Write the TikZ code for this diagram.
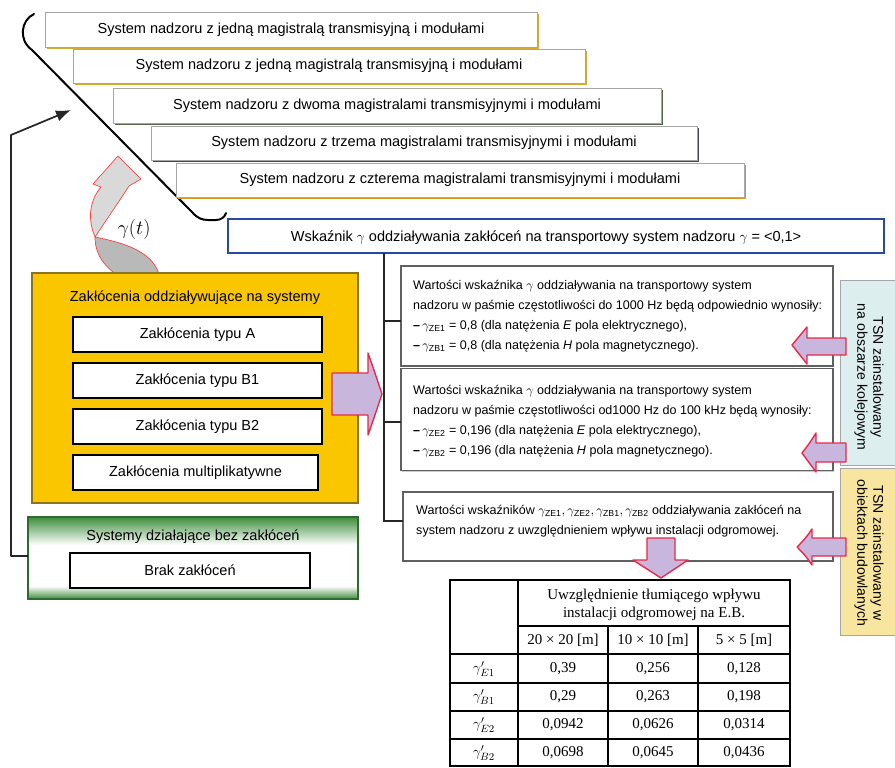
\documentclass[tikz,border=0pt]{standalone}
\usepackage{amsmath}
\usepackage{fontspec}
\setmainfont{Liberation Sans}
\newfontfamily\tabserif{Liberation Serif}
\usetikzlibrary{arrows.meta,shadows}
\definecolor{gold}{HTML}{F9C600}
\definecolor{goldedge}{HTML}{8A7420}
\definecolor{lav}{HTML}{C8B6DC}
\definecolor{pinkred}{HTML}{E8284A}
\definecolor{wblue}{HTML}{2A48A8}
\definecolor{gdark}{HTML}{3E8E3E}
\definecolor{gedge}{HTML}{2E6A30}
\definecolor{tsnblue}{HTML}{DDEEEE}
\definecolor{tsnyel}{HTML}{F8E6A0}
\definecolor{shgold}{HTML}{D4AA30}
\definecolor{shgreen}{HTML}{56664A}
\definecolor{shpurple}{HTML}{48405A}
\definecolor{shorange}{HTML}{D89A20}
\pgfdeclareverticalshading{greenband}{100bp}{color(0bp)=(gdark); color(25bp)=(gdark); color(33bp)=(white); color(58bp)=(white); color(75bp)=(gdark); color(100bp)=(gdark)}
\newdimen\pxu \pxu=0.3mm
\begin{document}
\begin{tikzpicture}[x=0.3mm, y=-0.3mm,
  bx/.style={draw, inner sep=0pt, outer sep=0pt, fill=white},
  bigfont/.style={font=\fontsize{12.4}{14}\selectfont},
  topbox/.style={bx, bigfont, draw=gray!70, line width=0.7pt,
    drop shadow={shadow xshift=0.5mm, shadow yshift=-0.5mm, fill=#1, opacity=1}},
  innerbox/.style={bx, bigfont, draw=black, line width=1.4pt,
    drop shadow={shadow xshift=0.35mm, shadow yshift=-0.35mm, fill=gray!70, opacity=1}},
  rbox/.style={bx, draw=gray!75!black, line width=1.1pt,
    drop shadow={shadow xshift=0.3mm, shadow yshift=-0.3mm, fill=gray!40, opacity=1}},
  rtext/.style={anchor=west, align=left, inner sep=0pt, font=\fontsize{10.7}{17.07}\selectfont},
  conn/.style={draw=black!85, line width=1.5pt},
  blockarrow/.style={fill=lav, draw=pinkred, line width=1.2pt, line join=round},
  tsnbox/.style={bx, draw=gray!70, line width=0.8pt},
  tsntext/.style={rotate=-90, align=center, inner sep=0pt, font=\fontsize{12}{13.7}\selectfont},
  tab/.style={line width=1.1pt, draw=black},
  tcell/.style={inner sep=0pt, font=\tabserif\fontsize{12.8}{15.4}\selectfont}
]
\useasboundingbox (0,0) rectangle (895,767);

% bracket
\draw[line width=1.7pt, line cap=round] (34,14) .. controls (21,20) and (18,40) .. (32,50) -- (192,212) .. controls (197,218) and (202,220) .. (208,220) -- (216,220) .. controls (221,220) and (225,217) .. (226,213);

% top stacked boxes
\node[topbox=shgold, minimum width=492*\pxu, minimum height=35*\pxu] (T1) at (291,29.5) {System nadzoru z jedną magistralą transmisyjną i modułami};
\node[topbox=shgold, minimum width=512*\pxu, minimum height=34*\pxu] (T2) at (329,66) {System nadzoru z jedną magistralą transmisyjną i modułami};
\node[topbox=shgreen, minimum width=548*\pxu, minimum height=35*\pxu] (T3) at (387,105.5) {System nadzoru z dwoma magistralami transmisyjnymi i modułami};
\node[topbox=shpurple, minimum width=546*\pxu, minimum height=34*\pxu] (T4) at (424,143) {System nadzoru z trzema magistralami transmisyjnymi i modułami};
\node[topbox=shorange, minimum width=568*\pxu, minimum height=34*\pxu] (T5) at (460,180) {System nadzoru z czterema magistralami transmisyjnymi i modułami};

% indicator box
\node[bx, draw=wblue, line width=1.5pt, minimum width=656*\pxu, minimum height=34*\pxu] (W) at (556,236) {};
\node[bigfont, inner sep=0pt] (Wt) at (546,238) {Wskaźnik $\gamma$ oddziaływania zakłóceń na transportowy system nadzoru $\gamma$ = <0,1>};

% gamma(t) curved arrow
\filldraw[fill=gray!55, draw=red!75, line width=0.6pt] (95,237) .. controls (125,243) and (155,252) .. (160,278) -- (122,278) .. controls (105,268) and (95,255) .. (95,237) -- cycle;
\filldraw[fill=gray!30, draw=red!75, line width=0.6pt, line join=round] (95,237) .. controls (87,218) and (90,200) .. (101,187) -- (93,184) -- (118,156) -- (141,179) -- (129,186) .. controls (118,203) and (105,222) .. (95,237) -- cycle;
\node[inner sep=0pt, font=\fontsize{17}{20}\selectfont] (gt) at (134,229) {$\gamma(t)$};

% yellow disturbance box
\node[bx, fill=gold, draw=goldedge, line width=1.3pt, minimum width=326*\pxu, minimum height=230*\pxu] (Y) at (195,388) {};
\node[bigfont, inner sep=0pt] (Yt) at (195,298) {Zakłócenia oddziaływujące na systemy};
\node[innerbox, minimum width=249*\pxu, minimum height=35*\pxu] (ZA) at (197.5,334.5) {Zakłócenia typu A};
\node[innerbox, minimum width=249*\pxu, minimum height=35*\pxu] (ZB1) at (197.5,380.5) {Zakłócenia typu B1};
\node[innerbox, minimum width=249*\pxu, minimum height=35*\pxu] (ZB2) at (197.5,426.5) {Zakłócenia typu B2};
\node[innerbox, minimum width=245*\pxu, minimum height=35*\pxu] (ZM) at (195.5,472.5) {Zakłócenia multiplikatywne};

% green box
\node[bx, shading=greenband, draw=gedge, line width=1.3pt, minimum width=330*\pxu, minimum height=82*\pxu] (G) at (193,558) {};
\node[bigfont, inner sep=0pt] (Gt) at (193,537) {Systemy działające bez zakłóceń};
\node[innerbox, minimum width=240*\pxu, minimum height=35*\pxu] (BZ) at (190,570.5) {Brak zakłóceń};

% feedback arrow
\coordinate (fb0) at (11,556);
\coordinate (fb1) at (11,135);
\coordinate (fbtip) at (71,110);
\draw[conn, line join=round, -{Latex[length=4.5mm, width=3.4mm]}] (G.west |- fb0) -- (fb0) -- (fb1) -- (fbtip);

% right boxes
\node[rbox, minimum width=432*\pxu, minimum height=100*\pxu] (A) at (617,316) {};
\node[rbox, minimum width=432*\pxu, minimum height=102*\pxu] (B) at (617,419.5) {};
\node[rbox, minimum width=430*\pxu, minimum height=69*\pxu] (C) at (618,526.5) {};

\node[rtext] (At) at (413,316) {Wartości wskaźnika $\gamma$ oddziaływania na transportowy system\\
nadzoru w paśmie częstotliwości do 1000 Hz będą odpowiednio wynosiły:\\
\textbf{–}\,$\gamma_{\text{ZE1}}$ = 0,8 (dla natężenia \textit{E} pola elektrycznego),\\
\textbf{–}\,$\gamma_{\text{ZB1}}$ = 0,8 (dla natężenia \textit{H} pola magnetycznego).};
\node[rtext] (Bt) at (413,421) {Wartości wskaźnika $\gamma$ oddziaływania na transportowy system\\
nadzoru w paśmie częstotliwości od1000 Hz do 100 kHz będą wynosiły:\\
\textbf{–}\,$\gamma_{\text{ZE2}}$ = 0,196 (dla natężenia \textit{E} pola elektrycznego),\\
\textbf{–}\,$\gamma_{\text{ZB2}}$ = 0,196 (dla natężenia \textit{H} pola magnetycznego).};
\node[rtext] (Ct) at (416,521) {Wartości wskaźników $\gamma_{\text{ZE1}}, \gamma_{\text{ZE2}}, \gamma_{\text{ZB1}}, \gamma_{\text{ZB2}}$ oddziaływania zakłóceń na\\
system nadzoru z uwzględnieniem wpływu instalacji odgromowej.};

% connector tree
\coordinate (jA) at (384,321);
\coordinate (jB) at (384,422);
\coordinate (jC) at (384,521);
\draw[conn, line join=miter] (W.south -| jC) -- (jC) -- (C.west |- jC);
\draw[conn] (jA) -- (A.west |- jA);
\draw[conn] (jB) -- (B.west |- jB);

% TSN boxes
\node[tsnbox, fill=tsnblue, minimum width=56*\pxu, minimum height=185*\pxu] (S1) at (868,372.5) {};
\node[tsnbox, fill=tsnyel, minimum width=56*\pxu, minimum height=167*\pxu] (S2) at (868,551.5) {};
\node[tsntext] (S1t) at (869,377) {TSN zainstalowany\\na obszarze kolejowym};
\node[tsntext] (S2t) at (869,553) {TSN zainstalowany w\\obiektach budowlanych};

% block arrows
\draw[blockarrow] (332,373) -- (368,373) -- (368,353) .. controls (374,370) .. (382,394) .. controls (374,418) .. (368,435) -- (368,415) -- (332,415) -- cycle;
\draw[blockarrow] (846,338) -- (807,338) -- (807,327) .. controls (800,336) .. (792,345) .. controls (800,354) .. (807,364) -- (807,355) -- (846,355) -- cycle;
\draw[blockarrow] (846,443) -- (816,443) -- (816,433) .. controls (809,444) .. (802,453) .. controls (809,462) .. (816,472) -- (816,462) -- (846,462) -- cycle;
\draw[blockarrow] (846,538) -- (812,538) -- (812,529) .. controls (805,539) .. (797,547) .. controls (805,555) .. (812,565) -- (812,556) -- (846,556) -- cycle;
\draw[blockarrow] (647,538) -- (675,538) -- (675,560) -- (688,560) .. controls (675,569) .. (661,578) .. controls (647,569) .. (633,560) -- (647,560) -- cycle;

% table
\draw[tab] (450,580) rectangle (790,766);
\draw[tab] (518,580) -- (518,766);
\draw[tab] (608,626) -- (608,766);
\draw[tab] (698,626) -- (698,766);
\draw[tab] (518,626) -- (790,626);
\foreach \yy in {654,683,711,739} \draw[tab] (450,\yy) -- (790,\yy);

\node[tcell, align=center] (hdr) at (654,605) {Uwzględnienie tłumiącego wpływu\\instalacji odgromowej na E.B.};
\node[tcell] (h1) at (563,640) {20 × 20 [m]};
\node[tcell] (h2) at (653,640) {10 × 10 [m]};
\node[tcell] (h3) at (744,640) {5 × 5 [m]};

\node[tcell] (rE1) at (484,669) {$\gamma'_{E1}$};
\node[tcell] (rB1) at (484,697) {$\gamma'_{B1}$};
\node[tcell] (rE2) at (484,725) {$\gamma'_{E2}$};
\node[tcell] (rB2) at (484,753) {$\gamma'_{B2}$};

\node[tcell] (v11) at (563,669) {0,39};
\node[tcell] (v12) at (653,669) {0,256};
\node[tcell] (v13) at (744,669) {0,128};
\node[tcell] (v21) at (563,697) {0,29};
\node[tcell] (v22) at (653,697) {0,263};
\node[tcell] (v23) at (744,697) {0,198};
\node[tcell] (v31) at (563,725) {0,0942};
\node[tcell] (v32) at (653,725) {0,0626};
\node[tcell] (v33) at (744,725) {0,0314};
\node[tcell] (v41) at (563,753) {0,0698};
\node[tcell] (v42) at (653,753) {0,0645};
\node[tcell] (v43) at (744,753) {0,0436};
\end{tikzpicture}
\end{document}
